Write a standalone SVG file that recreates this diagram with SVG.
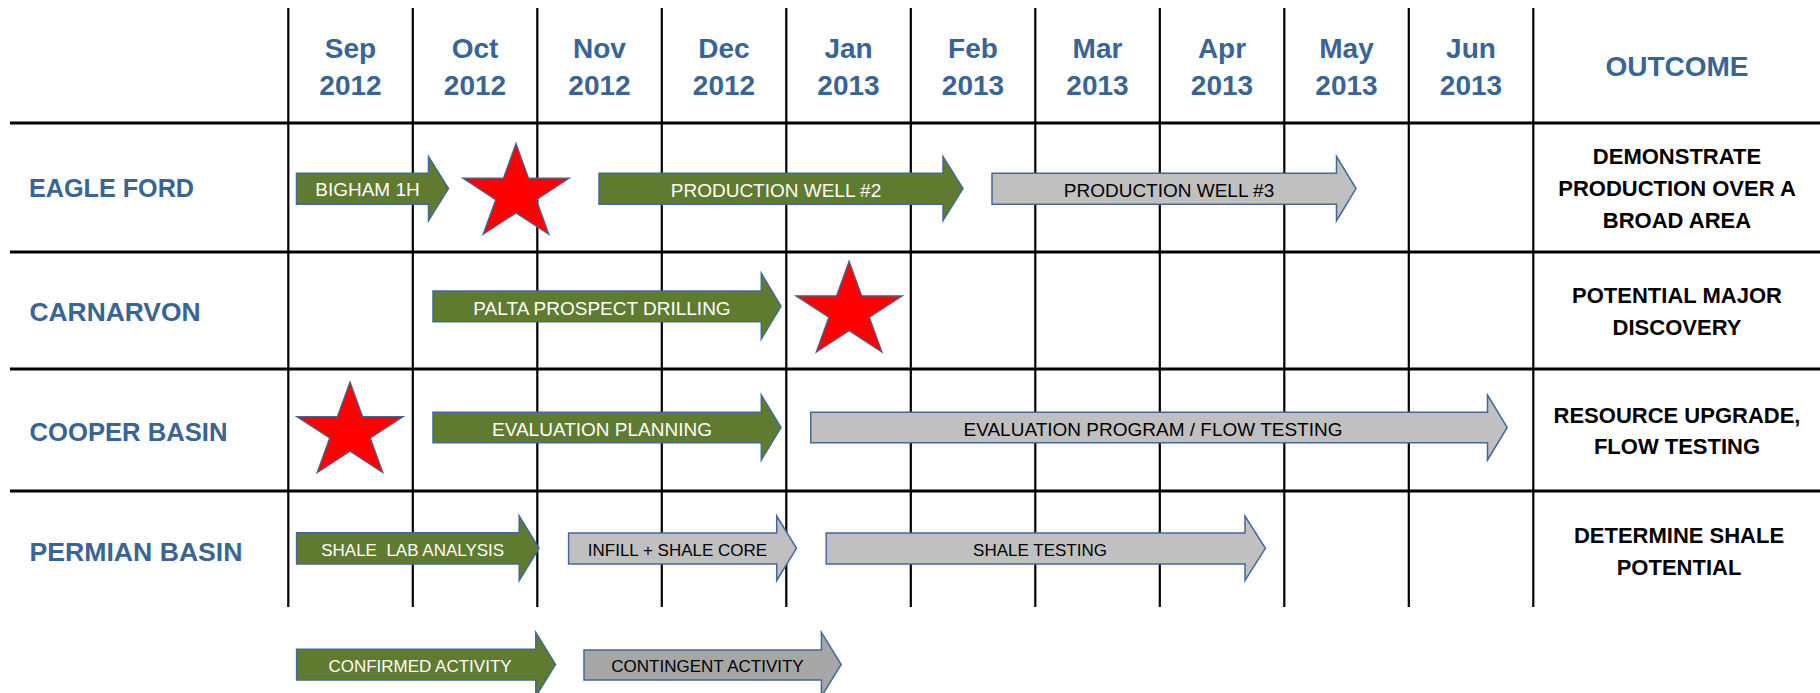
<svg xmlns="http://www.w3.org/2000/svg" xmlns:xlink="http://www.w3.org/1999/xlink" width="1820" height="693" viewBox="0 0 1820 693">
  <style>
    .hdr { font-family: "Liberation Sans", Arial, sans-serif; font-weight: bold; font-size: 28px; fill: #386496; text-anchor: middle; }
    .row { font-family: "Liberation Sans", Arial, sans-serif; font-weight: bold; font-size: 26px; fill: #386496; }
    .out { font-family: "Liberation Sans", Arial, sans-serif; font-weight: bold; font-size: 22px; fill: #000000; text-anchor: middle; }
    .lbl { font-family: "Liberation Sans", Arial, sans-serif; font-size: 19px; text-anchor: middle; }
    .sm { font-size: 17px; }
    .wt { fill: #FFFFFF; }
    .bk { fill: #000000; }
    .green { fill: #5F7B2F; stroke: #41699A; stroke-width: 1.5; stroke-linejoin: miter; }
    .grey { fill: #C0C0C0; stroke: #41699A; stroke-width: 1.5; stroke-linejoin: miter; }
    .dgrey { fill: #A6A6A6; stroke: #41699A; stroke-width: 1.5; stroke-linejoin: miter; }
    .star { fill: #FF0000; stroke: #41699A; stroke-width: 1.2; }
    .hline { stroke: #000000; stroke-width: 3; }
    .vline { stroke: #000000; stroke-width: 2.2; }
  </style>
  <defs>
    <!-- five-point star, 106.8 wide x 91.2 tall, centred on its circumcentre -->
    <path id="star5" d="M0,-50.41 L12.61,-15.58 L53.4,-15.58 L20.4,5.95 L33,40.78 L0,19.26 L-33,40.78 L-20.4,5.95 L-53.4,-15.58 L-12.61,-15.58 Z"/>
  </defs>

  <rect width="1820" height="693" fill="#FFFFFF"/>

  <!-- table grid -->
  <g id="grid">
    <line class="hline" x1="10" y1="123" x2="1820" y2="123"/>
    <line class="hline" x1="10" y1="252" x2="1820" y2="252"/>
    <line class="hline" x1="10" y1="369" x2="1820" y2="369"/>
    <line class="hline" x1="10" y1="491" x2="1820" y2="491"/>
    <line class="vline" x1="288.3" y1="8" x2="288.3" y2="607"/>
    <line class="vline" x1="412.8" y1="8" x2="412.8" y2="607"/>
    <line class="vline" x1="537.3" y1="8" x2="537.3" y2="607"/>
    <line class="vline" x1="661.8" y1="8" x2="661.8" y2="607"/>
    <line class="vline" x1="786.3" y1="8" x2="786.3" y2="607"/>
    <line class="vline" x1="910.8" y1="8" x2="910.8" y2="607"/>
    <line class="vline" x1="1035.3" y1="8" x2="1035.3" y2="607"/>
    <line class="vline" x1="1159.8" y1="8" x2="1159.8" y2="607"/>
    <line class="vline" x1="1284.3" y1="8" x2="1284.3" y2="607"/>
    <line class="vline" x1="1408.8" y1="8" x2="1408.8" y2="607"/>
    <line class="vline" x1="1533.3" y1="8" x2="1533.3" y2="607"/>
  </g>

  <!-- column headers -->
  <g id="header-sep"><text class="hdr" x="350.5" y="58">Sep</text><text class="hdr" x="350.5" y="95">2012</text></g>
  <g id="header-oct"><text class="hdr" x="475" y="58">Oct</text><text class="hdr" x="475" y="95">2012</text></g>
  <g id="header-nov"><text class="hdr" x="599.5" y="58">Nov</text><text class="hdr" x="599.5" y="95">2012</text></g>
  <g id="header-dec"><text class="hdr" x="724" y="58">Dec</text><text class="hdr" x="724" y="95">2012</text></g>
  <g id="header-jan"><text class="hdr" x="848.5" y="58">Jan</text><text class="hdr" x="848.5" y="95">2013</text></g>
  <g id="header-feb"><text class="hdr" x="973" y="58">Feb</text><text class="hdr" x="973" y="95">2013</text></g>
  <g id="header-mar"><text class="hdr" x="1097.5" y="58">Mar</text><text class="hdr" x="1097.5" y="95">2013</text></g>
  <g id="header-apr"><text class="hdr" x="1222" y="58">Apr</text><text class="hdr" x="1222" y="95">2013</text></g>
  <g id="header-may"><text class="hdr" x="1346.5" y="58">May</text><text class="hdr" x="1346.5" y="95">2013</text></g>
  <g id="header-jun"><text class="hdr" x="1471" y="58">Jun</text><text class="hdr" x="1471" y="95">2013</text></g>
  <g id="header-outcome"><text class="hdr" x="1677" y="76">OUTCOME</text></g>

  <!-- row labels -->
  <g id="row-eagle-ford"><text class="row" x="29" y="197" textLength="165" lengthAdjust="spacingAndGlyphs">EAGLE FORD</text></g>
  <g id="row-carnarvon"><text class="row" x="29.5" y="321" textLength="171" lengthAdjust="spacingAndGlyphs">CARNARVON</text></g>
  <g id="row-cooper-basin"><text class="row" x="29.5" y="441" textLength="198" lengthAdjust="spacingAndGlyphs">COOPER BASIN</text></g>
  <g id="row-permian-basin"><text class="row" x="29.5" y="561" textLength="213" lengthAdjust="spacingAndGlyphs">PERMIAN BASIN</text></g>

  <!-- outcomes -->
  <g id="outcome-eagle-ford">
    <text class="out" x="1677" y="164">DEMONSTRATE</text>
    <text class="out" x="1677" y="196">PRODUCTION OVER A</text>
    <text class="out" x="1677" y="228">BROAD AREA</text>
  </g>
  <g id="outcome-carnarvon">
    <text class="out" x="1677" y="303">POTENTIAL MAJOR</text>
    <text class="out" x="1677" y="335">DISCOVERY</text>
  </g>
  <g id="outcome-cooper-basin">
    <text class="out" x="1677" y="423">RESOURCE UPGRADE,</text>
    <text class="out" x="1677" y="454">FLOW TESTING</text>
  </g>
  <g id="outcome-permian-basin">
    <text class="out" x="1679" y="543">DETERMINE SHALE</text>
    <text class="out" x="1679" y="575">POTENTIAL</text>
  </g>

  <!-- activity arrows -->
  <g id="arrow-bigham-1h">
    <path class="green" d="M296.5,173.3 H428.5 V156.5 L448.5,188.6 L428.5,220.7 V204.3 H296.5 Z"/>
    <text class="lbl wt" x="367.5" y="196">BIGHAM 1H</text>
  </g>
  <g id="arrow-production-well-2">
    <path class="green" d="M599,173.3 H943 V156.5 L963,188.6 L943,220.7 V204.3 H599 Z"/>
    <text class="lbl wt" x="776" y="196.5">PRODUCTION WELL #2</text>
  </g>
  <g id="arrow-production-well-3">
    <path class="grey" d="M992,173.3 H1336.5 V156.5 L1356,188.6 L1336.5,220.7 V204.3 H992 Z"/>
    <text class="lbl bk" x="1169" y="196.5">PRODUCTION WELL #3</text>
  </g>
  <g id="arrow-palta-prospect">
    <path class="green" d="M433,291 H761.3 V273.3 L781,306.3 L761.3,339 V321.7 H433 Z"/>
    <text class="lbl wt" x="602" y="315">PALTA PROSPECT DRILLING</text>
  </g>
  <g id="arrow-evaluation-planning">
    <path class="green" d="M433,412.3 H761.3 V395 L781,427.5 L761.3,460 V442.7 H433 Z"/>
    <text class="lbl wt" x="602" y="436">EVALUATION PLANNING</text>
  </g>
  <g id="arrow-evaluation-program">
    <path class="grey" d="M810.7,412.3 H1487.5 V395 L1507.2,427.5 L1487.5,460 V442.7 H810.7 Z"/>
    <text class="lbl bk" x="1153" y="436">EVALUATION PROGRAM / FLOW TESTING</text>
  </g>
  <g id="arrow-shale-lab">
    <path class="green" d="M296.6,532.7 H519.2 V516 L539,548.3 L519.2,580.5 V564 H296.6 Z"/>
    <text class="lbl sm wt" x="412.7" y="556" xml:space="preserve">SHALE  LAB ANALYSIS</text>
  </g>
  <g id="arrow-infill-core">
    <path class="grey" d="M568.6,533 H776.7 V516 L796.5,548.3 L776.7,580.5 V564 H568.6 Z"/>
    <text class="lbl sm bk" x="677.5" y="556">INFILL + SHALE CORE</text>
  </g>
  <g id="arrow-shale-testing">
    <path class="grey" d="M826.2,533 H1245 V516 L1265.4,548.3 L1245,580.5 V564 H826.2 Z"/>
    <text class="lbl sm bk" x="1040" y="556">SHALE TESTING</text>
  </g>

  <!-- milestone stars -->
  <g id="star-eagle-ford"><use xlink:href="#star5" href="#star5" class="star" transform="translate(516,193.7)"/></g>
  <g id="star-carnarvon"><use xlink:href="#star5" href="#star5" class="star" transform="translate(849.1,311.4)"/></g>
  <g id="star-cooper-basin"><use xlink:href="#star5" href="#star5" class="star" transform="translate(350,432.1)"/></g>

  <!-- legend -->
  <g id="legend-confirmed">
    <path class="green" d="M296.6,649.3 H535.8 V632.3 L555.5,664.5 L535.8,696.5 V680 H296.6 Z"/>
    <text class="lbl sm wt" x="420" y="671.7">CONFIRMED ACTIVITY</text>
  </g>
  <g id="legend-contingent">
    <path class="dgrey" d="M584,650 H821.4 V632.3 L841.2,664.5 L821.4,696.5 V680 H584 Z"/>
    <text class="lbl sm bk" x="707.5" y="671.7">CONTINGENT ACTIVITY</text>
  </g>
</svg>
